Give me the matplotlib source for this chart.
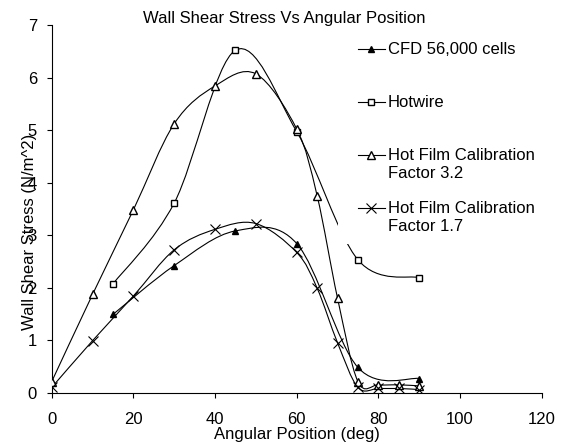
#!/usr/bin/env python3
import numpy as np
from matplotlib import pyplot as plt
from matplotlib.path import Path
from matplotlib.patches import PathPatch
from matplotlib.lines import Line2D
from matplotlib.legend_handler import HandlerLine2D

plt.rcParams['font.family'] = ['Liberation Sans', 'DejaVu Sans']

# wall shear stress (N/m^2) against angular position (deg)
cfd_x = [15, 30, 45, 60, 75, 90]
cfd_y = [1.49, 2.42, 3.08, 2.84, 0.48, 0.27]

hotwire_x = [15, 30, 45, 60, 75, 90]
hotwire_y = [2.07, 3.61, 6.52, 4.97, 2.53, 2.19]

film32_x = [0, 10, 20, 30, 40, 50, 60, 65, 70, 75, 80, 85, 90]
film32_y = [0.21, 1.87, 3.48, 5.12, 5.84, 6.07, 5.02, 3.75, 1.80, 0.21, 0.15, 0.15, 0.13]

film17_x = [0, 10, 20, 30, 40, 50, 60, 65, 70, 75, 80, 85, 90]
film17_y = [0.10, 0.99, 1.84, 2.72, 3.11, 3.22, 2.67, 1.99, 0.95, 0.10, 0.08, 0.08, 0.06]

labels = ['CFD 56,000 cells', 'Hotwire',
          'Hot Film Calibration\nFactor 3.2', 'Hot Film Calibration\nFactor 1.7']


def smooth_path(x, y):
    # spreadsheet style smoothed line: catmull-rom segments as cubic beziers
    pts = np.column_stack([x, y]).astype(float)
    n = len(pts)
    verts = [pts[0]]
    codes = [Path.MOVETO]
    for i in range(n - 1):
        p0 = pts[max(i - 1, 0)]
        p1 = pts[i]
        p2 = pts[i + 1]
        p3 = pts[min(i + 2, n - 1)]
        verts += [p1 + (p2 - p0) / 6, p2 - (p3 - p1) / 6, p2]
        codes += [Path.CURVE4] * 3
    return Path(verts, codes)


fig = plt.figure(figsize=(5.69, 4.45), dpi=100)
ax = fig.add_axes([51.7 / 569, 52.3 / 445, 490 / 569, 367.7 / 445])

series = [
    (cfd_x, cfd_y, dict(marker='^', markersize=5, markerfacecolor='black')),
    (hotwire_x, hotwire_y, dict(marker='s', markersize=3.8, markerfacecolor='white')),
    (film32_x, film32_y, dict(marker='^', markersize=6, markerfacecolor='white')),
    (film17_x, film17_y, dict(marker='x', markersize=6.5, markeredgewidth=0.8)),
]

handles = []
for (x, y, style), label in zip(series, labels):
    ax.add_patch(PathPatch(smooth_path(x, y), fill=False, edgecolor='black', lw=0.8, zorder=2))
    ax.plot(x, y, linestyle='none', color='black', markeredgecolor='black', zorder=3, **style)
    handles.append(Line2D([], [], color='black', lw=0.8, markeredgecolor='black', **style))

ax.set_xlim(0, 120)
ax.set_ylim(0, 7)
ax.set_xticks(range(0, 121, 20))
ax.set_yticks(range(0, 8))
ax.spines['top'].set_visible(False)
ax.spines['right'].set_visible(False)
for s in ['left', 'bottom']:
    ax.spines[s].set_linewidth(0.8)
ax.tick_params(axis='both', direction='out', length=3.6, width=0.8, labelsize=12)
ax.tick_params(axis='x', pad=10.5)
ax.tick_params(axis='y', pad=7)

ax.set_xlabel('Angular Position (deg)', fontsize=12, labelpad=0)
ax.set_ylabel('Wall Shear Stress (N/m^2)', fontsize=12)
ax.yaxis.set_label_coords((37 - 51.7) / 490, (392.7 - 232) / 367.7)
fig.suptitle('Wall Shear Stress Vs Angular Position', x=0.5, y=1 - 18 / 445,
             va='center', fontsize=12)

# every label padded to two lines so the entries sit at an even pitch
padded = [l if '\n' in l else l + '\n' for l in labels]
leg = ax.legend(handles, padded, loc='upper left',
                bbox_to_anchor=(338 / 569, 1 - 32 / 445), bbox_transform=fig.transFigure,
                borderaxespad=0, borderpad=0.6, fontsize=12, numpoints=1,
                handlelength=2.2, handleheight=1.1, handletextpad=0.2,
                labelspacing=1.24, frameon=True, fancybox=False,
                facecolor='white', edgecolor='none', framealpha=1,
                handler_map={Line2D: HandlerLine2D(xpad=0.6)})
for col in leg._legend_handle_box.get_children():
    for row in col.get_children():
        row.align = 'top'

fig.savefig('out.png', dpi=100)
